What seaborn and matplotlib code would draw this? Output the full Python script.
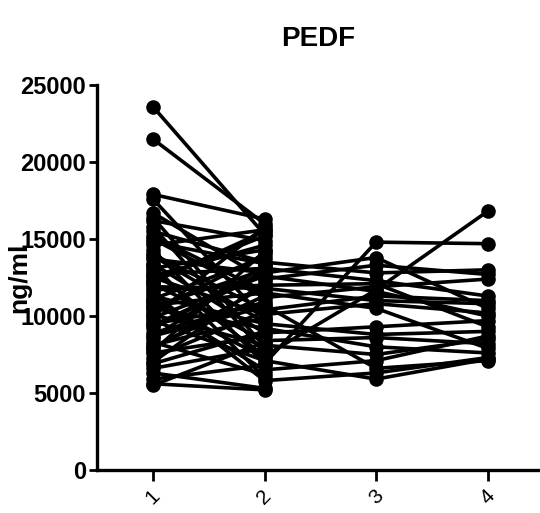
import numpy as np
import pandas as pd
import matplotlib
matplotlib.use("Agg")
import matplotlib.pyplot as plt
import seaborn as sns

# PEDF concentration (ng/ml) per subject at each visit; NaN = not sampled
visit_labels = ["1", "2", "3", "4"]
nan = np.nan
v1 = [23600, 21500, 17900, 17600, 16700, 16200, 15800, 15500, 15000, 14600,
      14300, 14000, 13700, 13400, 13100, 12900, 12700, 12500, 12300, 12100,
      11900, 11700, 11500, 11300, 11100, 10900, 10700, 10500, 10300, 10100,
      9900, 9700, 9500, 9200, 8900, 8600, 8300, 8100, 7900, 7600,
      7300, 7000, 6600, 6300, 5900, 5600, 5500, 12600, 14800, 10000,
      16400, 15200, 13900, 12200, 11000, 9400, 8700, 7700, 6900, 13300,
      10600, 8000]
v2 = [15300, 16000, 16300, 9800, 12400, 14900, 7600, 13500, 11200, 15600,
      6900, 10400, 12800, 8900, 14300, 7400, 13100, 10100, 15200, 8400,
      11800, 12000, 5800, 9500, 13800, 6500, 11500, 9200, 14000, 8100,
      12600, 7100, 10700, 12900, 10900, 13300, 6200, 9900, 11900, 8700,
      10300, 12200, 7900, 5300, 6800, 5200, 8300, 14600, 13400, 15800,
      8000, 11600, 9600, 15500, 7300, 12700, 10600, 14200, 9000, 6000,
      13000, 11300]
v3 = [nan, nan, nan, nan, 13300, nan, nan, 12800, 11900, nan,
      14800, 11300, 13800, 9300, nan, 11700, 12300, 10800, nan, 8600,
      11000, 12100, 6300, 8800, nan, 7100, 10500, 8000, nan, 7500,
      11600, 5900, 6600] + [nan] * 29
v4 = [nan, nan, nan, nan, 12700, nan, nan, 13000, 12400, nan,
      14700, 11000, 10500, 9700, nan, 16800, 11300, 10200, nan, 8200,
      10800, 9300, 7300, 9000, nan, 8700, 7900, 7600, nan, 8500,
      10000, 7200, 7100] + [nan] * 29

subjects = np.arange(len(v1))
frames = []
for pos, vals in zip([1, 2, 3, 4], [v1, v2, v3, v4]):
    frames.append(pd.DataFrame({"subject": subjects, "visit": pos, "pedf": vals}))
df = pd.concat(frames).dropna()

sns.set_style("ticks")
plt.rcParams["font.family"] = ["Liberation Sans", "DejaVu Sans"]
plt.rcParams["text.color"] = "black"

fig = plt.figure(figsize=(5.4, 5.13), dpi=100)
ax = fig.add_axes([0.18, 0.084, 0.82, 0.75])

sns.lineplot(data=df, x="visit", y="pedf", units="subject", estimator=None,
             color="black", linewidth=2.6, marker="o", markersize=10.5,
             markeredgewidth=0, ax=ax, legend=False)

ax.set_xlim(0.5, 4.47)
ax.set_ylim(0, 25000)
ax.set_yticks([0, 5000, 10000, 15000, 20000, 25000])
ax.set_xticks([1, 2, 3, 4])
ax.set_xticklabels(visit_labels, rotation=45, fontsize=15, ha="center")
for lab in ax.get_yticklabels():
    lab.set_fontsize(17)
    lab.set_fontweight("bold")

ax.set_xlabel("")
ax.set_ylabel("ng/ml", fontsize=19, fontweight="bold", color="black")
ax.yaxis.set_label_coords(-0.15, 0.5)
ax.set_title("PEDF", fontsize=20, fontweight="bold", color="black", pad=28)

for side in ["top", "right"]:
    ax.spines[side].set_visible(False)
for side in ["left", "bottom"]:
    ax.spines[side].set_linewidth(2.4)
    ax.spines[side].set_color("black")
ax.tick_params(axis="both", width=2, length=6, color="black", labelcolor="black")
ax.tick_params(axis="x", length=8, pad=4)
ax.tick_params(axis="y", pad=2)

fig.savefig("out.png", dpi=100, facecolor="white")
